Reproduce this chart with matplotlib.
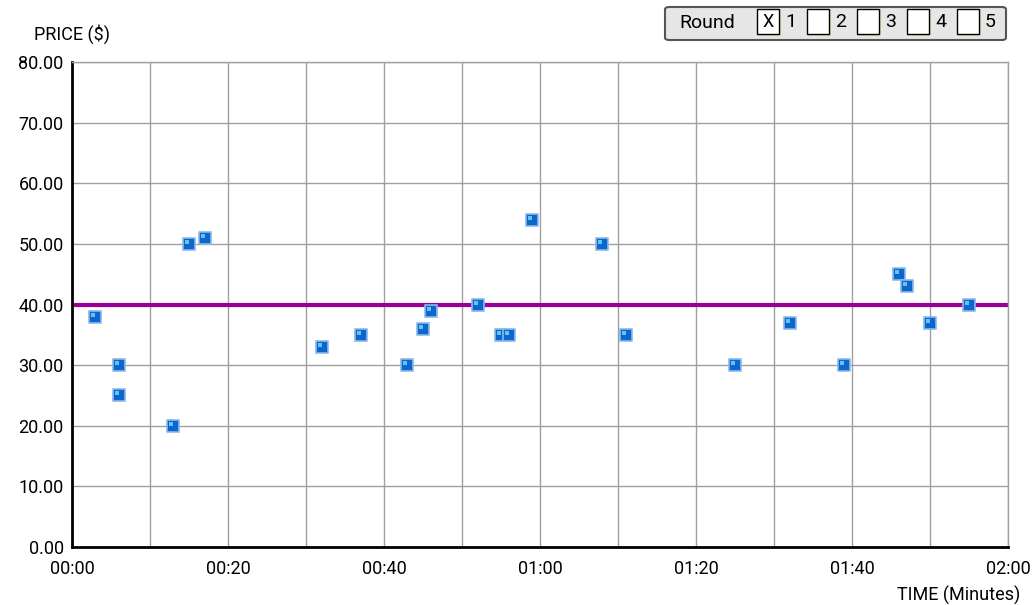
import matplotlib
matplotlib.use("Agg")
from matplotlib import pyplot as plt
from matplotlib.patches import Rectangle, FancyBboxPatch
from matplotlib.transforms import ScaledTranslation

plt.rcParams['font.family'] = ['Roboto', 'DejaVu Sans']

# bids: time (seconds) and price ($)
times = [3, 6, 6, 13, 15, 17, 32, 37, 43, 45, 46, 52, 55, 56, 59, 68, 71,
         85, 92, 99, 106, 107, 110, 115]
prices = [38, 30, 25, 20, 50, 51, 33, 35, 30, 36, 39, 40, 35, 35, 54, 50, 35,
          30, 37, 30, 45, 43, 37, 40]
reference_price = 40
rounds = ["1", "2", "3", "4", "5"]
checked = ["1"]


def mmss(sec, pos=None):
    sec = int(round(sec))
    return f"{sec // 60:02d}:{sec % 60:02d}"


fig = plt.figure(figsize=(10.34, 6.05), dpi=100)
ax = fig.add_axes([72 / 1034, 58 / 605, 936 / 1034, 485 / 605])

ax.set_xlim(0, 120)
ax.set_ylim(0, 80)
ax.set_xticks(range(0, 121, 10), minor=True)
ax.set_xticks(range(0, 121, 20))
ax.xaxis.set_major_formatter(mmss)
ax.set_yticks(range(0, 81, 10))
ax.yaxis.set_major_formatter(lambda v, p: f"{v:.2f}")
ax.grid(True, which="both", color="#a0a0a0", linewidth=1)
ax.set_axisbelow(True)
ax.tick_params(which="both", length=0, labelsize=13, pad=6, colors="black")
ax.tick_params(axis="x", pad=9)
for s in ("top", "right"):
    ax.spines[s].set_color("#a0a0a0")
    ax.spines[s].set_linewidth(1)
for s in ("left", "bottom"):
    ax.spines[s].set_linewidth(2)

ax.axhline(reference_price, color="#990099", linewidth=3, zorder=2)

ax.scatter(times, prices, marker="s", s=75, color="#0d66cc",
           edgecolors="#8ab8ec", linewidths=1.2, zorder=3)
hl = ax.transData + ScaledTranslation(-2 / 100, 2 / 100, fig.dpi_scale_trans)
ax.scatter(times, prices, marker="s", s=12, color="#66c4f5",
           linewidths=0, zorder=4, transform=hl)

fig.text(72 / 1034, 1 - 34 / 605, "PRICE ($)", ha="center", va="center",
         fontsize=13)
fig.text(1020 / 1034, 1 - 595 / 605, "TIME (Minutes)", ha="right",
         va="center", fontsize=13)

# round selector box
W, H = 1034, 605
box = FancyBboxPatch((665 / W, 1 - 40 / H), 341 / W, 33 / H,
                     boxstyle="round,pad=0,rounding_size=0.004",
                     transform=fig.transFigure, facecolor="#e6e6e6",
                     edgecolor="#555555", linewidth=1.5)
fig.patches.append(box)
fig.text(707 / W, 1 - 23 / H, "Round", ha="center", va="center", fontsize=14)
for i, r in enumerate(rounds):
    x0 = 757 + 50 * i
    shadow = Rectangle(((x0 + 1) / W, 1 - 35 / H), 22 / W, 25 / H,
                       transform=fig.transFigure, facecolor="none",
                       edgecolor="#d8d4a8", linewidth=1.5)
    fig.patches.append(shadow)
    cb = Rectangle((x0 / W, 1 - 34 / H), 22 / W, 25 / H,
                   transform=fig.transFigure, facecolor="white",
                   edgecolor="black", linewidth=1)
    fig.patches.append(cb)
    if r in checked:
        fig.text((x0 + 11) / W, 1 - 22 / H, "X", ha="center", va="center",
                 fontsize=13)
    fig.text((x0 + 28) / W, 1 - 22 / H, r, ha="left", va="center",
             fontsize=14)

fig.savefig("out.png", dpi=100)
